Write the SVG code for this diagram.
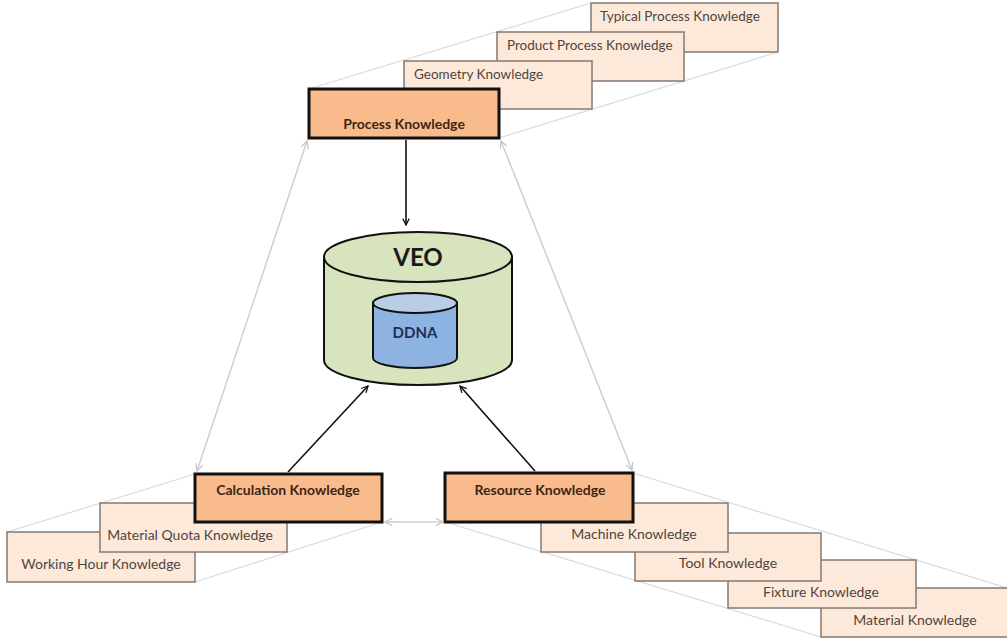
<svg xmlns="http://www.w3.org/2000/svg" width="1007" height="638" viewBox="0 0 1007 638">
<defs>
<style>
.lt{fill:#fde9d9;stroke:#857870;stroke-width:1.5}
.mn{fill:#f9bb8c;stroke:#111;stroke-width:3}
.t{font-family:Lato,"Liberation Sans",sans-serif;font-size:13.5px;fill:#4f4540}
.tb{font-family:Lato,"Liberation Sans",sans-serif;font-size:14px;fill:#4f4540;text-anchor:middle}
.b{font-family:Lato,"Liberation Sans",sans-serif;font-size:14px;font-weight:bold;fill:#3b2616;text-anchor:middle}
.guide{stroke:#dadada;stroke-width:1.2;fill:none}
.ga{stroke:#cfcfcf;stroke-width:1.5;fill:none;marker-start:url(#ga);marker-end:url(#ga)}
.bk{stroke:#111;stroke-width:1.6;fill:none;marker-end:url(#ba)}
</style>
<marker id="ba" viewBox="0 0 10 10" refX="9" refY="5" markerWidth="8" markerHeight="8" orient="auto-start-reverse" markerUnits="userSpaceOnUse">
<path d="M1,1 L9,5 L1,9" fill="none" stroke="#111" stroke-width="1.6"/>
</marker>
<marker id="ga" viewBox="0 0 10 10" refX="9" refY="5" markerWidth="9" markerHeight="9" orient="auto-start-reverse" markerUnits="userSpaceOnUse">
<path d="M1,1 L9,5 L1,9" fill="none" stroke="#c8c8c8" stroke-width="1.5"/>
</marker>
</defs>
<rect width="1007" height="638" fill="#fff"/>

<g id="guides">
<line class="guide" x1="309" y1="89" x2="591" y2="3"/>
<line class="guide" x1="499" y1="138" x2="778" y2="52"/>
<line class="guide" x1="7" y1="532" x2="195" y2="474"/>
<line class="guide" x1="195" y1="582" x2="382" y2="522"/>
<line class="guide" x1="633" y1="473" x2="1007" y2="588"/>
<line class="guide" x1="445" y1="522" x2="821" y2="637"/>
</g>

<g id="n-typical"><rect class="lt" x="591" y="3" width="187" height="49"/><text class="t" x="600" y="21">Typical Process Knowledge</text></g>
<g id="n-product"><rect class="lt" x="497" y="32" width="187" height="49"/><text class="t" x="507" y="50">Product Process Knowledge</text></g>
<g id="n-geometry"><rect class="lt" x="404" y="61" width="188" height="48"/><text class="t" x="414" y="79">Geometry Knowledge</text></g>
<g id="n-process"><rect class="mn" x="309" y="89" width="190" height="49"/><text class="b" x="404" y="129">Process Knowledge</text></g>

<g id="n-workinghour"><rect class="lt" x="7" y="532" width="188" height="50"/><text class="tb" x="101" y="569">Working Hour Knowledge</text></g>
<g id="n-materialquota"><rect class="lt" x="100" y="503" width="187" height="49"/><text class="tb" x="190" y="540">Material Quota Knowledge</text></g>
<g id="n-calculation"><rect class="mn" x="195" y="474" width="187" height="48"/><text class="b" x="288" y="495">Calculation Knowledge</text></g>

<g id="n-material"><rect class="lt" x="821" y="588" width="187" height="49"/><text class="tb" x="915" y="625">Material Knowledge</text></g>
<g id="n-fixture"><rect class="lt" x="728" y="560" width="188" height="48"/><text class="tb" x="821" y="597">Fixture Knowledge</text></g>
<g id="n-tool"><rect class="lt" x="635" y="533" width="186" height="48"/><text class="tb" x="728" y="568">Tool Knowledge</text></g>
<g id="n-machine"><rect class="lt" x="541" y="503" width="187" height="49"/><text class="tb" x="634" y="539">Machine Knowledge</text></g>
<g id="n-resource"><rect class="mn" x="445" y="473" width="188" height="49"/><text class="b" x="540" y="495">Resource Knowledge</text></g>

<g id="n-veo">
<path d="M324,257 L324,360 A94,25 0 0 0 512,360 L512,257 Z" fill="#d7e4bd" stroke="#111" stroke-width="2"/>
<ellipse cx="418" cy="257" rx="94" ry="25" fill="#d7e4bd" stroke="#111" stroke-width="2"/>
<text x="418" y="266" font-family="Lato,'Liberation Sans',sans-serif" font-size="24" font-weight="bold" fill="#1a1a1a" text-anchor="middle">VEO</text>
</g>
<g id="n-ddna">
<path d="M373,303 L373,358 A42,10 0 0 0 457,358 L457,303 Z" fill="#8db3e2" stroke="#111" stroke-width="2"/>
<ellipse cx="415" cy="303" rx="42" ry="10" fill="#b9cde5" stroke="#111" stroke-width="2"/>
<text x="415" y="338" font-family="Lato,'Liberation Sans',sans-serif" font-size="15" font-weight="bold" fill="#1f2f55" text-anchor="middle">DDNA</text>
</g>

<g id="connectors">
<line class="ga" x1="307" y1="141" x2="197" y2="471"/>
<line class="ga" x1="501" y1="141" x2="632" y2="470"/>
<line class="ga" x1="385" y1="522" x2="443" y2="522"/>
<line class="bk" x1="406" y1="140" x2="406" y2="225"/>
<line class="bk" x1="288" y1="472" x2="368" y2="386"/>
<line class="bk" x1="535" y1="471" x2="460" y2="386"/>
</g>
</svg>
